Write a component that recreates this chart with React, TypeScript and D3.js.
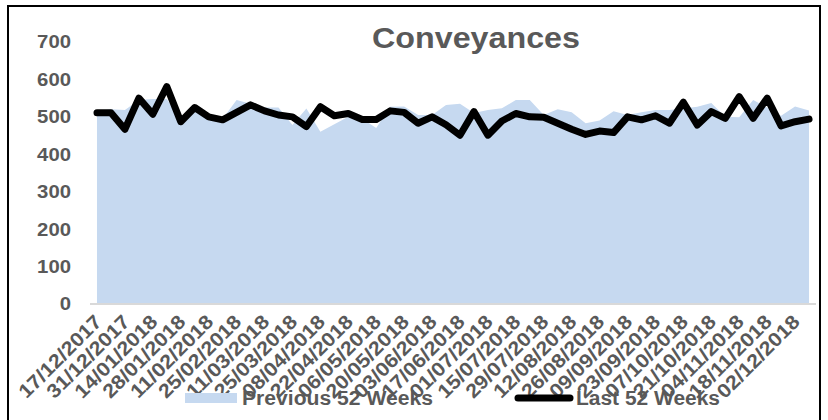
import React from "react";
import * as d3 from "d3";

// Week-commencing dates (weekly categories)
const weeks: string[] = [
  "17/12/2017", "24/12/2017", "31/12/2017", "07/01/2018", "14/01/2018", "21/01/2018",
  "28/01/2018", "04/02/2018", "11/02/2018", "18/02/2018", "25/02/2018", "04/03/2018",
  "11/03/2018", "18/03/2018", "25/03/2018", "01/04/2018", "08/04/2018", "15/04/2018",
  "22/04/2018", "29/04/2018", "06/05/2018", "13/05/2018", "20/05/2018", "27/05/2018",
  "03/06/2018", "10/06/2018", "17/06/2018", "24/06/2018", "01/07/2018", "08/07/2018",
  "15/07/2018", "22/07/2018", "29/07/2018", "05/08/2018", "12/08/2018", "19/08/2018",
  "26/08/2018", "02/09/2018", "09/09/2018", "16/09/2018", "23/09/2018", "30/09/2018",
  "07/10/2018", "14/10/2018", "21/10/2018", "28/10/2018", "04/11/2018", "11/11/2018",
  "18/11/2018", "25/11/2018", "02/12/2018", "09/12/2018",
];

// Previous 52 weeks (area)
const previous52: number[] = [
  515, 520, 518, 545, 548, 548, 490, 515, 500, 495,
  545, 535, 525, 525, 478, 522, 460, 480, 500, 495,
  470, 527, 528, 505, 505, 532, 535, 510, 518, 523,
  545, 545, 505, 520, 512, 483, 490, 515, 505, 512,
  518, 518, 522, 527, 537, 500, 499, 545, 525, 503,
  528, 517,
];

// Last 52 weeks (line)
const last52: number[] = [
  511, 511, 467, 550, 507, 581, 487, 525, 500, 492,
  512, 532, 516, 505, 500, 474, 527, 503, 509, 493,
  493, 516, 512, 483, 500, 479, 451, 514, 451, 489,
  509, 500, 499, 483, 467, 453, 462, 458, 500, 492,
  503, 483, 539, 478, 514, 496, 554, 496, 550, 476,
  487, 494,
];

const yTicks: number[] = [0, 100, 200, 300, 400, 500, 600, 700];

const TEXT = "#595959";
const AREA = "#c6d9f0";
const FONT = "'Liberation Sans', Arial, sans-serif";

export default function App() {
  const W = 828;
  const H = 420;

  const x = d3.scaleBand<string>().domain(weeks).range([90, 816]).padding(0);
  const cx = (d: string) => (x(d) as number) + x.bandwidth() / 2;
  const y = d3.scaleLinear().domain([0, 700]).range([304, 42]);

  const area = d3
    .area<number>()
    .x((_, i) => cx(weeks[i]))
    .y0(y(0))
    .y1((v) => y(v));

  const line = d3
    .line<number>()
    .x((_, i) => cx(weeks[i]))
    .y((v) => y(v));

  const labelled = weeks.filter((_, i) => i % 2 === 0);

  return (
    <svg
      width={W}
      height={H}
      style={{ position: "absolute", left: 0, top: 0, background: "#fff" }}
      fontFamily={FONT}
    >
      <rect x={0} y={0} width={W} height={H} fill="#fff" />
      <rect x={8} y={6} width={812} height={430} fill="none" stroke="#000" strokeWidth={2} />

      {/* title */}
      <text
        x={372}
        y={48}
        fontSize={29}
        fontWeight="bold"
        fill={TEXT}
        textLength={208}
        lengthAdjust="spacingAndGlyphs"
      >
        Conveyances
      </text>

      {/* y axis labels */}
      {yTicks.map((t) => {
        const s = String(t);
        return (
          <text
            key={t}
            x={71}
            y={y(t)}
            dy="0.36em"
            textAnchor="end"
            fontSize={18}
            fontWeight="bold"
            fill={TEXT}
            textLength={11.3 * s.length}
            lengthAdjust="spacingAndGlyphs"
          >
            {s}
          </text>
        );
      })}

      {/* series */}
      <path d={area(previous52) ?? ""} fill={AREA} />
      <line x1={90} x2={816} y1={y(0)} y2={y(0)} stroke="#d9d9d9" strokeWidth={2} />
      <path
        d={line(last52) ?? ""}
        fill="none"
        stroke="#000"
        strokeWidth={7}
        strokeLinejoin="round"
        strokeLinecap="round"
      />

      {/* x axis labels */}
      {labelled.map((d) => {
        const px = cx(d) + 6;
        const py = 323;
        return (
          <text
            key={d}
            x={px}
            y={py}
            transform={`rotate(-45, ${px}, ${py})`}
            textAnchor="end"
            fontSize={19.5}
            fontWeight="bold"
            fill={TEXT}
            textLength={108}
            lengthAdjust="spacingAndGlyphs"
          >
            {d}
          </text>
        );
      })}

      {/* legend */}
      <rect x={185} y={393} width={52} height={10} fill={AREA} />
      <text
        x={242}
        y={405}
        fontSize={20}
        fontWeight="bold"
        fill={TEXT}
        textLength={191}
        lengthAdjust="spacingAndGlyphs"
      >
        Previous 52 Weeks
      </text>
      <line x1={518} x2={570} y1={398} y2={398} stroke="#000" strokeWidth={7} strokeLinecap="round" />
      <text
        x={576}
        y={405}
        fontSize={20}
        fontWeight="bold"
        fill={TEXT}
        textLength={144}
        lengthAdjust="spacingAndGlyphs"
      >
        Last 52 Weeks
      </text>
    </svg>
  );
}
